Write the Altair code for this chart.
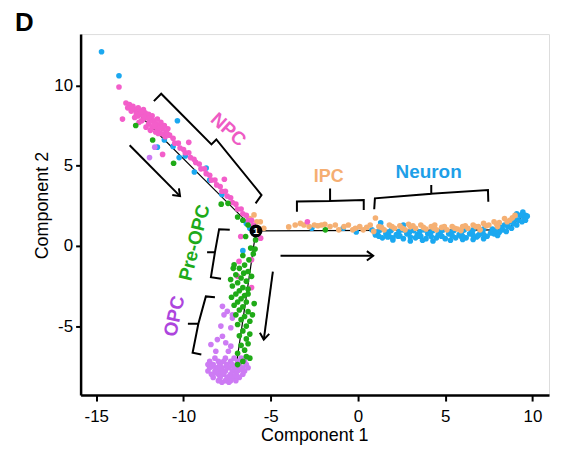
import altair as alt
import pandas as pd

# ---------------- data ----------------
# NPC cells (pink)
npc_x = [-13.3, -13.1, -13.2, -12.9, -12.8, -13.0, -12.6, -12.7, -12.5, -12.4, -12.3, -12.2, -12.6, -12.1,
         -12.0, -11.9, -12.3, -11.8, -11.7, -12.0, -11.6, -11.5, -11.4, -11.8, -11.3, -11.2, -11.5, -11.1,
         -11.0, -11.3, -10.9, -10.8, -11.6, -11.9, -12.4, -12.8, -12.15, -11.45, -11.05, -12.55,
         -12.95, -12.45, -12.25, -11.95, -11.65, -11.35, -11.15, -10.95, -12.7, -12.0, -11.7,
         -10.6, -10.5, -10.3, -10.2, -10.0, -9.9, -9.7, -9.6, -9.4, -9.3, -9.1, -9.0, -8.8, -8.7, -8.5,
         -8.4, -8.2, -8.1, -7.9, -7.8, -7.6, -7.5, -7.3, -7.2, -7.0, -6.9, -6.7, -6.6, -6.4, -6.3, -6.1,
         -6.0, -5.8,
         -13.7, -13.5, -9.7, -7.66, -11.2, -6.72, -5.58, -6.82, -6.1, -6.1, -6.9, -2.9]
npc_y = [8.9, 8.8, 8.6, 8.7, 8.5, 8.4, 8.6, 8.3, 8.4, 8.2, 8.5, 8.3, 8.1, 8.0,
         8.2, 7.9, 7.9, 8.1, 7.8, 7.6, 7.6, 7.9, 7.5, 7.4, 7.7, 7.3, 7.2, 7.5,
         7.1, 7.0, 7.3, 6.9, 7.1, 7.2, 7.8, 8.0, 7.4, 7.0, 6.8, 7.7,
         8.55, 8.35, 8.05, 7.75, 7.45, 7.35, 6.95, 7.0, 8.2, 7.95, 7.55,
         6.7, 6.4, 6.4, 6.1, 6.0, 5.8, 5.8, 5.5, 5.4, 5.2, 5.1, 4.8, 4.8, 4.5, 4.4,
         4.1, 4.1, 3.8, 3.7, 3.4, 3.4, 3.1, 3.0, 2.7, 2.6, 2.3, 2.3, 2.0, 1.9, 1.6, 1.6,
         1.3, 1.1,
         9.9, 7.9, 6.45, 4.15, 5.7, 0.58, 0.48, -0.97, -0.87, -2.6, -1.9, 1.5]

# Neuron cells (blue)
neu_x = [-14.7, -13.7, -10.35, -11.5, -11.1, -10.25, -9.38, -8.5, -8.7, -7.8, -10.6, -9.9, -6.4, -6.2,
         -6.6, -2.65, -0.85, -0.1, 1.0, 1.3, 2.6, 2.0,
         0.8, 1.3, 1.9, 2.6, 3.2, 3.8, 4.3, 4.9, 5.5, 6.1, 6.6, 7.2, 7.7,
         1.0, 1.6, 2.2, 2.8, 3.4, 4.0, 4.6, 5.2, 5.8, 6.4, 7.0, 7.6, 8.1,
         1.4, 2.0, 2.6, 3.3, 3.9, 4.5, 5.0, 5.6, 6.2, 6.8, 7.4, 8.0,
         3.0, 3.7, 4.3, 5.3, 6.0, 6.6, 7.2,
         1.15, 1.75, 2.35, 2.95, 3.55, 4.15, 4.75, 5.35, 5.95, 6.55, 7.15, 7.75, 8.25,
         1.2, 1.8, 2.4, 3.0, 3.6, 4.2, 4.8, 5.4, 6.0, 6.6, 7.2, 7.8,
         8.3, 8.5, 8.6, 8.8, 8.9, 9.1, 9.2, 9.4, 9.5, 9.6, 9.3, 9.1, 9.45, 9.0, 8.7, 8.4, 9.6, 9.7,
         3.5, 4.8, 5.9, 6.9, 7.9, 8.2, 2.3, 1.7]
neu_y = [12.1, 10.6, 7.8, 6.15, 6.6, 5.5, 4.6, 4.1, 4.85, 3.2, 6.2, 5.6, 1.4, 1.1,
         -0.3, 1.1, 1.1, 0.87, 0.68, 1.43, 1.3, 0.37,
         1.0, 1.0, 0.95, 1.0, 0.95, 1.0, 0.95, 1.0, 0.95, 1.0, 1.0, 1.05, 1.05,
         0.75, 0.75, 0.7, 0.75, 0.7, 0.75, 0.7, 0.75, 0.7, 0.75, 0.8, 0.8, 0.85,
         0.5, 0.5, 0.45, 0.5, 0.45, 0.5, 0.45, 0.5, 0.5, 0.55, 0.6, 0.65,
         0.3, 0.35, 0.3, 0.35, 0.4, 0.4, 0.45,
         0.88, 0.85, 0.9, 0.85, 0.88, 0.82, 0.9, 0.85, 0.88, 0.9, 0.92, 0.95, 1.05,
         0.6, 0.58, 0.62, 0.55, 0.6, 0.58, 0.6, 0.62, 0.6, 0.65, 0.7, 0.75,
         1.0, 0.9, 1.2, 1.1, 1.4, 1.3, 1.6, 1.5, 1.8, 1.9, 1.9, 2.0, 2.1, 1.7, 1.5, 1.3, 1.6, 1.85,
         0.6, 0.6, 0.6, 0.65, 0.95, 1.15, 0.6, 0.55]

# IPC cells (orange)
ipc_x = [-5.6, -5.4, -3.97, -3.6, -3.3, -3.1, -2.8, -2.5, -2.3, -2.1, -1.9, -1.6, -1.3, -1.1, -0.8,
         -0.55, -0.3, -0.15, 0.1, 0.3, 0.5, 0.7, 1.0, 0.9,
         1.2, 1.5, 1.8, 2.1, 2.4, 2.7, 3.0, 3.3, 3.6, 3.9, 4.2, 4.5, 4.8, 5.1, 5.4, 5.7, 6.0, 6.3,
         6.6, 6.9, 7.2, 7.5, 7.8, 8.1, 8.4, 8.7, 9.0, 2.9, 4.4, 5.9, 7.0, 8.0,
         1.35, 1.95, 2.55, 3.15, 3.75, 4.35, 4.95, 5.55, 6.15, 6.75, 7.35, 7.95, 8.55, 8.85,
         -5.96, -5.8, -6.2]
ipc_y = [1.5, 1.1, 1.18, 1.3, 1.4, 1.3, 1.2, 1.3, 1.25, 1.3, 1.35, 1.2, 1.3, 1.0, 1.2,
         1.3, 1.0, 1.1, 1.2, 1.0, 1.15, 1.3, 1.74, 0.9,
         1.2, 1.0, 1.3, 1.1, 1.25, 1.0, 1.2, 1.1, 1.3, 1.05, 1.2, 1.0, 1.15, 1.0, 1.2, 1.05, 1.2, 1.1,
         1.3, 1.2, 1.4, 1.3, 1.5, 1.45, 1.7, 1.6, 1.9, 1.35, 1.3, 0.95, 1.0, 1.2,
         1.15, 1.2, 1.1, 1.25, 1.15, 1.1, 1.2, 1.1, 1.25, 1.2, 1.25, 1.35, 1.5, 1.75,
         1.93, 1.5, 1.7]

# Pre-OPC cells (green)
pre_x = [-12.74, -11.77, -10.57, -7.84, -7.45, -6.9, -6.6, -6.3,
         -6.44, -5.87, -6.15, -6.25, -6.0, -6.6, -7.1, -6.8, -6.5, -6.3, -7.0, -6.7, -6.4, -6.9, -7.2,
         -6.6, -6.3, -6.8, -7.0, -6.5, -6.7, -6.9, -6.4, -7.1, -6.6, -6.8, -6.3, -7.0, -6.5, -6.7,
         -6.2, -6.9, -6.4, -6.6, -6.2, -6.8, -6.4, -6.3, -6.7, -6.5, -6.9, -6.4, -6.6, -6.9, -6.2,
         -6.3, -5.9, -7.3, -6.1, -6.55, -1.87, -7.25, -5.95, -7.15, -6.05]
pre_y = [7.5, 6.6, 5.15, 2.6, 2.65, 1.8, 1.6, 1.3,
         0.58, 0.37, -0.14, -0.87, -0.5, -0.6, -1.18, -1.4, -1.2, -1.6, -1.8, -2.0, -2.2, -2.3, -2.5,
         -2.6, -2.7, -2.8, -3.0, -3.1, -3.3, -3.5, -3.5, -3.7, -3.8, -4.0, -4.1, -4.3, -4.4, -4.6,
         -4.7, -4.9, -5.0, -5.3, -5.5, -5.6, -5.8, -6.1, -6.2, -6.5, -6.7, -6.9, -7.2, -7.4, -7.0,
         -3.0, -0.2, -2.1, -1.9, -1.7, 1.0, -3.2, -3.6, -1.4, -4.3]

# OPC cells (purple)
opc_x = [-11.95, -11.65,
         -7.77, -7.49, -7.2, -7.68, -7.86, -7.29, -7.2, -8.06, -7.77, -7.58, -7.29, -8.43, -8.15, -7.43,
         -8.2, -7.6, -7.1, -6.7,
         -8.5, -8.0, -7.7, -7.3, -6.9, -6.5,
         -8.6, -8.3, -7.9, -7.5, -7.2, -6.8, -6.4,
         -8.5, -8.1, -7.8, -7.4, -7.0, -6.6, -6.3,
         -8.6, -8.2, -7.9, -7.6, -7.2, -6.9, -6.5,
         -8.4, -8.0, -7.7, -7.3, -7.0, -6.6,
         -8.3, -7.9, -7.5, -7.2, -6.8,
         -8.0, -7.6, -7.3, -7.0,
         -7.8, -7.4,
         -8.35, -7.95, -7.55, -7.15, -6.75, -8.15, -7.75, -7.35, -6.95]
opc_y = [5.5, 6.15,
         -3.77, -4.08, -4.3, -4.3, -5.0, -5.1, -4.5, -5.84, -5.63, -6.04, -6.25, -6.15, -6.57, -6.57,
         -7.0, -7.0, -7.0, -7.0,
         -7.2, -7.2, -7.2, -7.2, -7.2, -7.2,
         -7.4, -7.4, -7.4, -7.4, -7.4, -7.4, -7.4,
         -7.6, -7.6, -7.6, -7.6, -7.6, -7.6, -7.6,
         -7.8, -7.8, -7.8, -7.8, -7.8, -7.8, -7.8,
         -8.0, -8.0, -8.0, -8.0, -8.0, -8.0,
         -8.2, -8.2, -8.2, -8.2, -8.2,
         -8.4, -8.4, -8.4, -8.4,
         -8.5, -8.5,
         -7.5, -7.5, -7.5, -7.5, -7.7, -7.9, -7.9, -8.1, -8.1]

# trajectory segments (start -> end)
traj_x0 = [-13.3, -5.85, -5.85, 8.5]
traj_y0 = [9.0, 0.93, 0.93, 1.0]
traj_x1 = [-5.85, -7.0, 8.5, 9.4]
traj_y1 = [0.93, -7.6, 1.0, 1.8]

# branch point
branch_x = [-5.85]
branch_y = [0.93]
branch_label = ["1"]

# arrows (shaft start -> tip) and head direction (degrees, clockwise)
arrow_x0 = [-13.09, -4.44, -4.88]
arrow_y0 = [6.27, -0.62, -1.6]
arrow_x1 = [-10.2, 0.87, -5.4]
arrow_y1 = [3.1, -0.62, -5.84]
arrow_angle = [45, 0, 97]

# brackets (polylines)
br_x = [-11.70, -11.28, -8.40, -8.12, -5.53, -5.87] + \
       [-3.5, -3.5, -1.6, -1.6, -1.6, 0.33, 0.33] + \
       [0.93, 0.97, 4.2, 4.2, 4.2, 7.45, 7.47] + \
       [-7.35, -7.96, -8.2, -8.65, -8.2, -8.43, -7.85] + \
       [-8.2, -8.72, -9.15, -9.75, -9.15, -9.48, -8.98]
br_y = [9.02, 9.48, 6.32, 6.63, 3.17, 2.65] + \
       [2.13, 2.76, 2.8, 3.58, 2.8, 2.86, 2.24] + \
       [2.28, 2.96, 3.25, 3.8, 3.25, 3.48, 2.75] + \
       [1.0, 1.04, -0.4, -0.4, -0.4, -1.95, -2.05] + \
       [-3.2, -3.15, -4.85, -4.85, -4.85, -6.66, -6.77]
br_id = ["NPC"] * 6 + ["IPC"] * 7 + ["Neuron"] * 7 + ["PreOPC"] * 7 + ["OPC"] * 7

# labels
lab_text = ["NPC", "IPC", "Neuron", "Pre-OPC", "OPC"]
lab_x = [-7.43, -1.68, 4.05, -9.37, -10.52]
lab_y = [7.25, 4.3, 4.62, 0.2, -4.39]
lab_angle = [42, 0, 0, 284, 282]
lab_color = ["#EE5BC4", "#F5AE72", "#1E9FE8", "#1DAA1A", "#AD45DD"]
lab_size = [19, 18, 19, 19, 19]

# ---------------- chart ----------------
FONT = "Liberation Sans"
LABEL_EXPR = "datum.value < 0 ? '-' + abs(datum.value) : '' + datum.value"
xscale = alt.Scale(domain=[-15.9, 10.95], nice=False, zero=False)
yscale = alt.Scale(domain=[-9.3, 13.2], nice=False, zero=False)
xaxis = alt.Axis(values=[-15, -10, -5, 0, 5, 10], grid=False, domainColor="black", domainWidth=2.5,
                 tickColor="black", tickWidth=2, tickSize=6, labelFontSize=17, labelColor="black",
                 labelPadding=8, labelFont=FONT, labelExpr=LABEL_EXPR, title="Component 1", titleFontSize=18,
                 titleFontWeight="normal", titleColor="black", titleFont=FONT,
                 titleX=235, titleY=41, titleBaseline="middle", titleAlign="center")
yaxis = alt.Axis(values=[-5, 0, 5, 10], grid=False, domainColor="black", domainWidth=2.5,
                 tickColor="black", tickWidth=2, tickSize=5, labelFontSize=17, labelColor="black",
                 labelPadding=3, labelFont=FONT, labelExpr=LABEL_EXPR, title="Component 2", titleFontSize=18,
                 titleFontWeight="normal", titleColor="black", titleFont=FONT,
                 titleX=-38, titleY=172, titleAngle=-90, titleBaseline="middle", titleAlign="center")


def X(field):
    return alt.X(field, type="quantitative", scale=xscale, axis=xaxis)


def Y(field):
    return alt.Y(field, type="quantitative", scale=yscale, axis=yaxis)


traj_df = pd.DataFrame({"x0": traj_x0, "y0": traj_y0, "x1": traj_x1, "y1": traj_y1})
traj = alt.Chart(traj_df).mark_rule(color="black", strokeWidth=1.2).encode(
    x=X("x0"), y=Y("y0"), x2="x1", y2="y1")


def points(xs, ys, color):
    df = pd.DataFrame({"x": xs, "y": ys})
    return alt.Chart(df).mark_circle(size=32, color=color, opacity=1).encode(x=X("x"), y=Y("y"))


neu = points(neu_x, neu_y, "#1BA8F0")
ipc = points(ipc_x, ipc_y, "#F5B073")
npc = points(npc_x, npc_y, "#F35ECA")
opc = points(opc_x, opc_y, "#CD7BF4")
pre = points(pre_x, pre_y, "#1FAA17")

branch_df = pd.DataFrame({"x": branch_x, "y": branch_y, "t": branch_label})
branch_dot = alt.Chart(branch_df).mark_circle(size=170, color="black", opacity=1).encode(x=X("x"), y=Y("y"))
branch_txt = alt.Chart(branch_df).mark_text(color="white", fontSize=10, fontWeight="bold", font=FONT,
                                            baseline="middle", align="center").encode(
    x=X("x"), y=Y("y"), text="t:N")

arrow_df = pd.DataFrame({"x0": arrow_x0, "y0": arrow_y0, "x1": arrow_x1, "y1": arrow_y1, "a": arrow_angle})
arrow_shaft = alt.Chart(arrow_df).mark_rule(color="black", strokeWidth=2).encode(
    x=X("x0"), y=Y("y0"), x2="x1", y2="y1")
arrow_head = alt.Chart(arrow_df).mark_point(shape="M -1 -0.75 L 0 0 L -1 0.75", filled=False,
                                            color="black", strokeWidth=2, size=160, opacity=1).encode(
    x=X("x1"), y=Y("y1"), angle=alt.Angle("a:Q", scale=None))

br_df = pd.DataFrame({"x": br_x, "y": br_y, "id": br_id, "o": list(range(len(br_x)))})
brackets = alt.Chart(br_df).mark_line(color="black", strokeWidth=2, strokeJoin="miter").encode(
    x=X("x"), y=Y("y"), detail="id:N", order="o:Q")

lab_df = pd.DataFrame({"x": lab_x, "y": lab_y, "t": lab_text, "a": lab_angle, "c": lab_color, "s": lab_size})
labels = alt.Chart(lab_df).mark_text(fontWeight="bold", font=FONT, baseline="middle", align="center").encode(
    x=X("x"), y=Y("y"), text="t:N", angle=alt.Angle("a:Q", scale=None),
    color=alt.Color("c:N", scale=None), size=alt.Size("s:Q", scale=None))

chart = alt.layer(traj, neu, ipc, npc, opc, pre, brackets, arrow_shaft, arrow_head,
                  branch_dot, branch_txt, labels).properties(
    width=471, height=363,
    autosize=alt.AutoSizeParams(type="none"),
    padding={"left": 73, "top": 25, "right": 4, "bottom": 52},
    title=alt.TitleParams(text="D", anchor="start", frame="group", fontSize=26, fontWeight="bold",
                          font=FONT, color="black", dx=-66, dy=4, offset=2),
).configure_view(strokeWidth=0).configure(background="white")

chart.save("out.html", embed_options={"renderer": "svg", "actions": False})
